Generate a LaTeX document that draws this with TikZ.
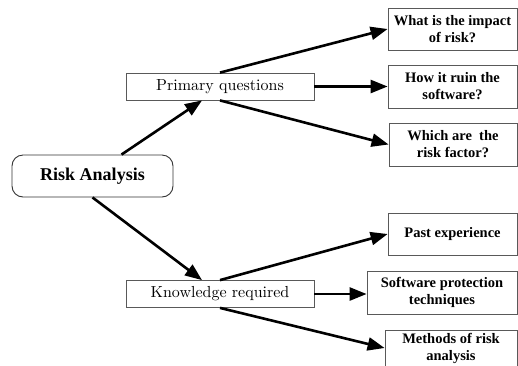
\documentclass[tikz,border=0pt]{standalone}
\usepackage{fontspec}
\newfontfamily\boldserif{Liberation Serif}
\newfontfamily\romanten{lmroman10-regular}[Extension=.otf]
\usetikzlibrary{arrows.meta,calc}
\begin{document}
\begin{tikzpicture}[x=1pt,y=-1pt,
  leafbox/.style={draw=black!65,line width=0.8pt,fill=white,inner sep=0pt,
    align=center,font=\boldserif\bfseries\fontsize{14.5}{17}\selectfont},
  midbox/.style={draw=black!65,line width=0.8pt,fill=white,inner sep=0pt,
    minimum width=188pt,minimum height=27pt,font=\romanten\fontsize{16}{18}\selectfont},
  rootbox/.style={draw=black!80,line width=0.9pt,rounded corners=11pt,fill=white,inner sep=0pt,
    minimum width=161pt,minimum height=42pt,font=\boldserif\bfseries\fontsize{18}{21}\selectfont},
  arr/.style={line width=2.6pt,-{Triangle[length=17pt,width=13pt]}}]
\useasboundingbox (0,0) rectangle (518,365);

% root and the two branches
\node[rootbox] (risk) at (92.5,176) {Risk Analysis};
\node[midbox] (primary) at (220,86.5) {Primary questions};
\node[midbox] (knowledge) at (220,294) {Knowledge required};

% leaves of the first branch
\node[leafbox,minimum width=129pt,minimum height=42pt] (impact) at (452.5,29) {What is the impact\\of risk?};
\node[leafbox,minimum width=129pt,minimum height=43pt] (ruin) at (452.5,86.5) {How it ruin the\\software?};
\node[leafbox,minimum width=128pt,minimum height=43pt] (factor) at (453,144.5) {Which are\ \ the\\risk factor?};

% leaves of the second branch
\node[leafbox,minimum width=129pt,minimum height=42pt] (past) at (452.5,234) {Past experience};
\node[leafbox,minimum width=150pt,minimum height=43pt] (protect) at (442,292.5) {Software protection\\techniques};
\node[leafbox,minimum width=132pt,minimum height=36pt] (methods) at (451,348) {Methods of risk\\analysis};

% connectors
\draw[arr] ([xshift=29pt]risk.north) -- ([xshift=-18pt]primary.south);
\draw[arr] (risk.south) -- ([xshift=-18pt]knowledge.north);

\draw[arr] (primary.north) -- (impact.west);
\draw[arr] (primary.east) -- (ruin.west);
\draw[arr] (primary.south) -- (factor.west);

\draw[arr] (knowledge.north) -- (past.west);
\draw[arr] (knowledge.east) -- (knowledge.east -| protect.west);
\draw[arr] (knowledge.south) -- (methods.west);
\end{tikzpicture}
\end{document}
